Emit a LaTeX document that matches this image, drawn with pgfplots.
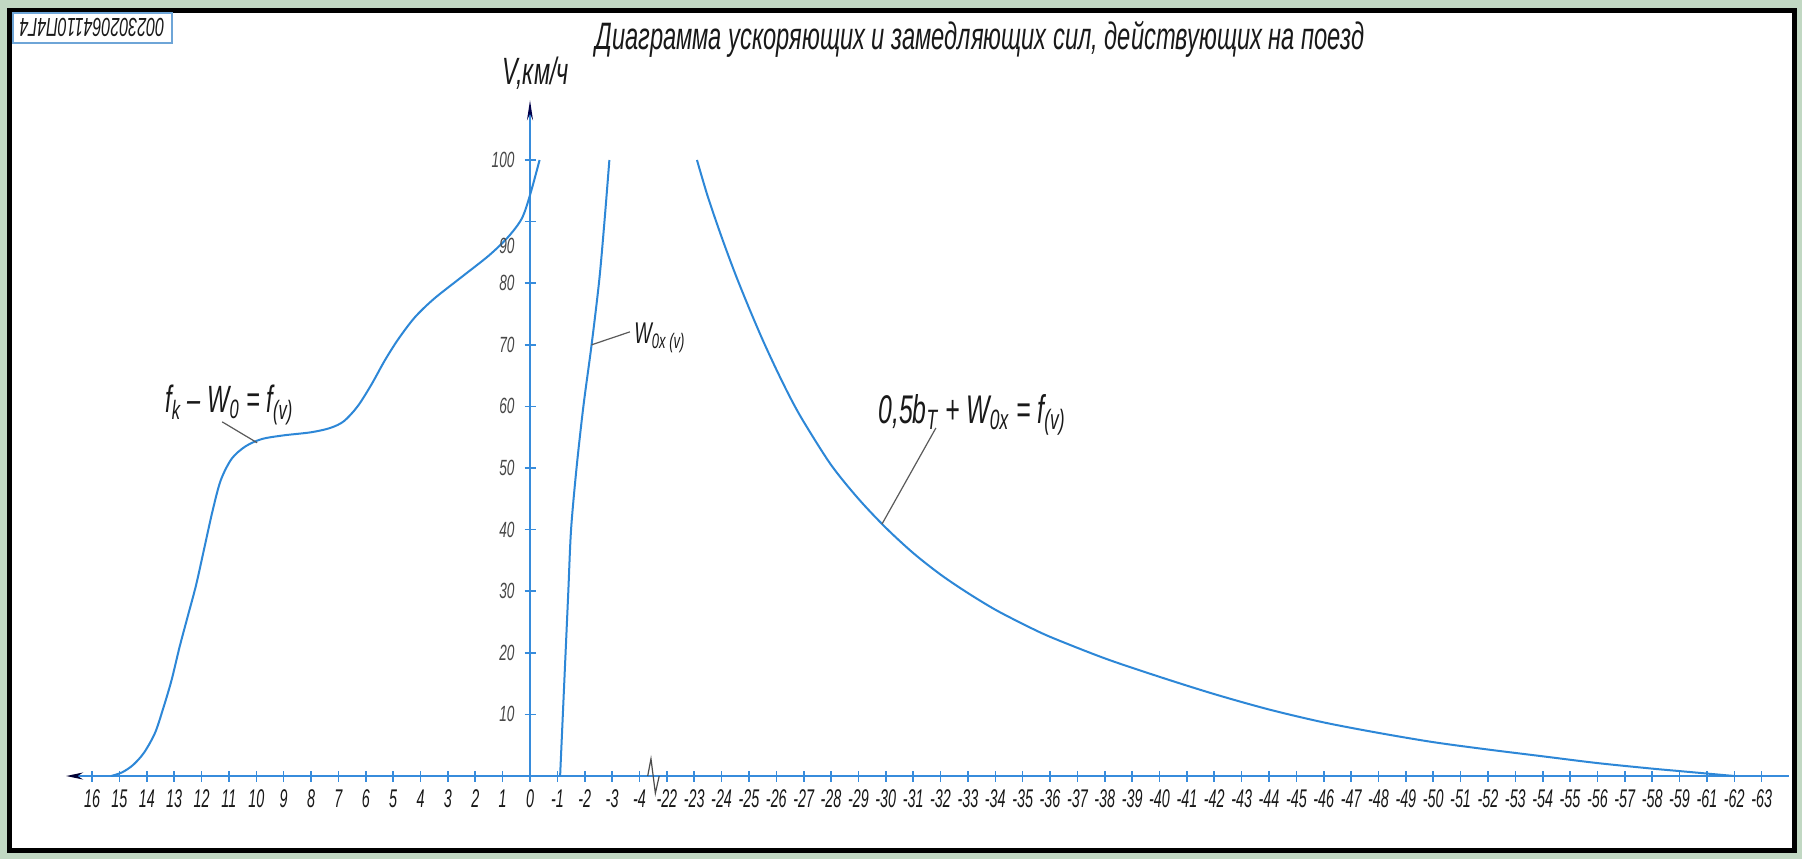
\documentclass[border=0pt]{standalone}
\usepackage{fontspec}
\usepackage{pgfplots}
\usepackage{pgfplotstable}
\pgfplotsset{compat=1.18}
\usetikzlibrary{arrows.meta}
\newfontfamily\gost{Liberation Sans}[FakeStretch=0.62]
\newfontfamily\gostt{Liberation Sans}[FakeStretch=0.56]
\definecolor{bgg}{RGB}{193,216,195}
\definecolor{cblue}{RGB}{45,135,215}
\definecolor{ablue}{RGB}{55,140,220}
\definecolor{boxblue}{RGB}{110,165,215}
\definecolor{txt}{RGB}{25,25,25}
\definecolor{lead}{RGB}{90,90,90}

% x = tick position on the (broken) force axis: 0 at label 0, left = positive forces
\pgfplotstableread{
p v
-15.3 0
-14.9 0.6
-14.5 1.8
-14.1 3.8
-13.7 7
-13.4 11
-13.1 15.5
-12.8 21
-12.5 26
-12.2 31
-11.9 37
-11.6 43
-11.3 48
-10.9 51.5
-10.4 53.5
-9.8 54.7
-9.0 55.3
-8.0 55.8
-7.3 56.5
-6.8 57.6
-6.3 60
-5.8 63.5
-5.3 67.5
-4.8 71
-4.2 74.5
-3.5 77.5
-2.5 81
-1.5 84.5
-0.8 87.5
-0.3 90.5
0 94.3
0.35 100
}\curveA
\pgfplotstableread{
p v
1.1 0
1.2 10
1.3 20
1.4 30
1.5 40
1.7 50
1.95 60
2.25 70
2.53 80.5
2.72 90
2.9 100
}\curveB
\pgfplotstableread{
p v
6.1 100
6.5 94
7.0 87.5
7.5 81.5
8.0 76
8.5 70.8
9.0 66
9.5 61.5
10.0 57.5
11.0 50.5
12.0 45
13.0 40.3
14.0 36.2
15.0 32.7
16.0 29.7
17.0 27
18.0 24.7
19.0 22.6
21.0 19.1
23.0 16.1
25.0 13.3
27.0 10.8
29.0 8.7
31.0 7.0
33.0 5.5
35.0 4.3
37.0 3.2
39.0 2.1
41.0 1.2
42.0 0.8
43.0 0.4
44.0 0
}\curveC

\begin{document}
\begin{tikzpicture}[x=1pt,y=1pt]
\fill[bgg] (0,0) rectangle (901,429.5);
\fill[white] (4.75,4.25) rectangle (897.25,424.25);
\draw[black,line width=2.5pt] (4.75,4.25) rectangle (897.25,424.25);
\draw[boxblue,line width=1pt,fill=white] (6.5,408) rectangle (86,422.8);
\node[rotate=180,text=txt,font=\gost\itshape\fontsize{13}{13}\selectfont,inner sep=0pt] at (46,415.8) {002302064110П4Г4};

\node[anchor=base west,text=txt,font=\gost\itshape\fontsize{19.1}{19.1}\selectfont,inner sep=0pt] at (297.5,404.5) {Диаграмма ускоряющих и замедляющих сил, действующих на поезд};
\node[anchor=base west,text=txt,font=\gost\itshape\fontsize{19}{19}\selectfont,inner sep=0pt] at (251,387) {V,км/ч};

\begin{axis}[
  at={(265pt,41.5pt)}, anchor=origin,
  x=13.685pt, y=3.08pt,
  xmin=-16.95, xmax=46, ymin=0, ymax=109.7,
  axis x line=middle, axis y line=middle,
  hide obscured x ticks=false,
  axis line style={ablue,line width=1pt},
  x axis line style={{Stealth[length=8.5pt,width=3.5pt,color=black!80!blue]}-},
  y axis line style={-{Stealth[length=10pt,width=3pt,color=black!70!blue]}},
  clip=false,
  tick align=center, major tick length=5.5pt,
  tick style={ablue,line width=0.8pt},
  xtick={-16,...,45},
  xticklabels={16,15,14,13,12,11,10,9,8,7,6,5,4,3,2,1,0,-1,-2,-3,-4,-22,-23,-24,-25,-26,-27,-28,-29,-30,-31,-32,-33,-34,-35,-36,-37,-38,-39,-40,-41,-42,-43,-44,-45,-46,-47,-48,-49,-50,-51,-52,-53,-54,-55,-56,-57,-58,-59,-61,-62,-63},
  ytick={10,20,30,40,50,60,70,80,90,100},
  yticklabels={10,20,30,40,50,60,70,80,{},100},
  xticklabel style={font=\gostt\itshape\fontsize{12.8}{12.8}\selectfont,text=txt,anchor=north,yshift=-0.5pt},
  yticklabel style={font=\gost\itshape\fontsize{11}{11}\selectfont,text=txt!80,anchor=east,xshift=-1.5pt},
]
\addplot[cblue,line width=1pt,smooth] table[x=p,y=v] {\curveA};
\addplot[cblue,line width=1pt,smooth] table[x=p,y=v] {\curveB};
\addplot[cblue,line width=1pt,smooth] table[x=p,y=v] {\curveC};
% label 90 sits below its tick in the original
\node[anchor=east,text=txt!80,font=\gost\itshape\fontsize{11}{11}\selectfont,xshift=-4.25pt] at (axis cs:0,86) {90};
% axis break mark
\draw[black!70,line width=0.6pt] (axis cs:4.3,0) -- (axis cs:4.42,2.8) -- (axis cs:4.58,-2.8) -- (axis cs:4.72,0);
% leaders
\draw[lead,line width=0.6pt] (axis cs:-11.25,57.5) -- (axis cs:-9.97,54.1);
\draw[lead,line width=0.6pt] (axis cs:2.25,70) -- (axis cs:3.65,72.1);
\draw[lead,line width=0.6pt] (axis cs:14.83,56.5) -- (axis cs:12.86,40.9);
\end{axis}

\node[anchor=base west,text=txt,font=\gost\itshape\fontsize{19}{19}\selectfont,inner sep=0pt] at (82.5,223.5) {f\textsubscript{k} – W\textsubscript{0} = f\textsubscript{(v)}};
\node[anchor=base west,text=txt,font=\gost\itshape\fontsize{15}{15}\selectfont,inner sep=0pt] at (317,258) {W\textsubscript{0x (v)}};
\node[anchor=base west,text=txt,font=\gost\itshape\fontsize{20}{20}\selectfont,inner sep=0pt] at (439,218) {0,5b\textsubscript{T} + W\textsubscript{0x} = f\textsubscript{(v)}};
\end{tikzpicture}
\end{document}
